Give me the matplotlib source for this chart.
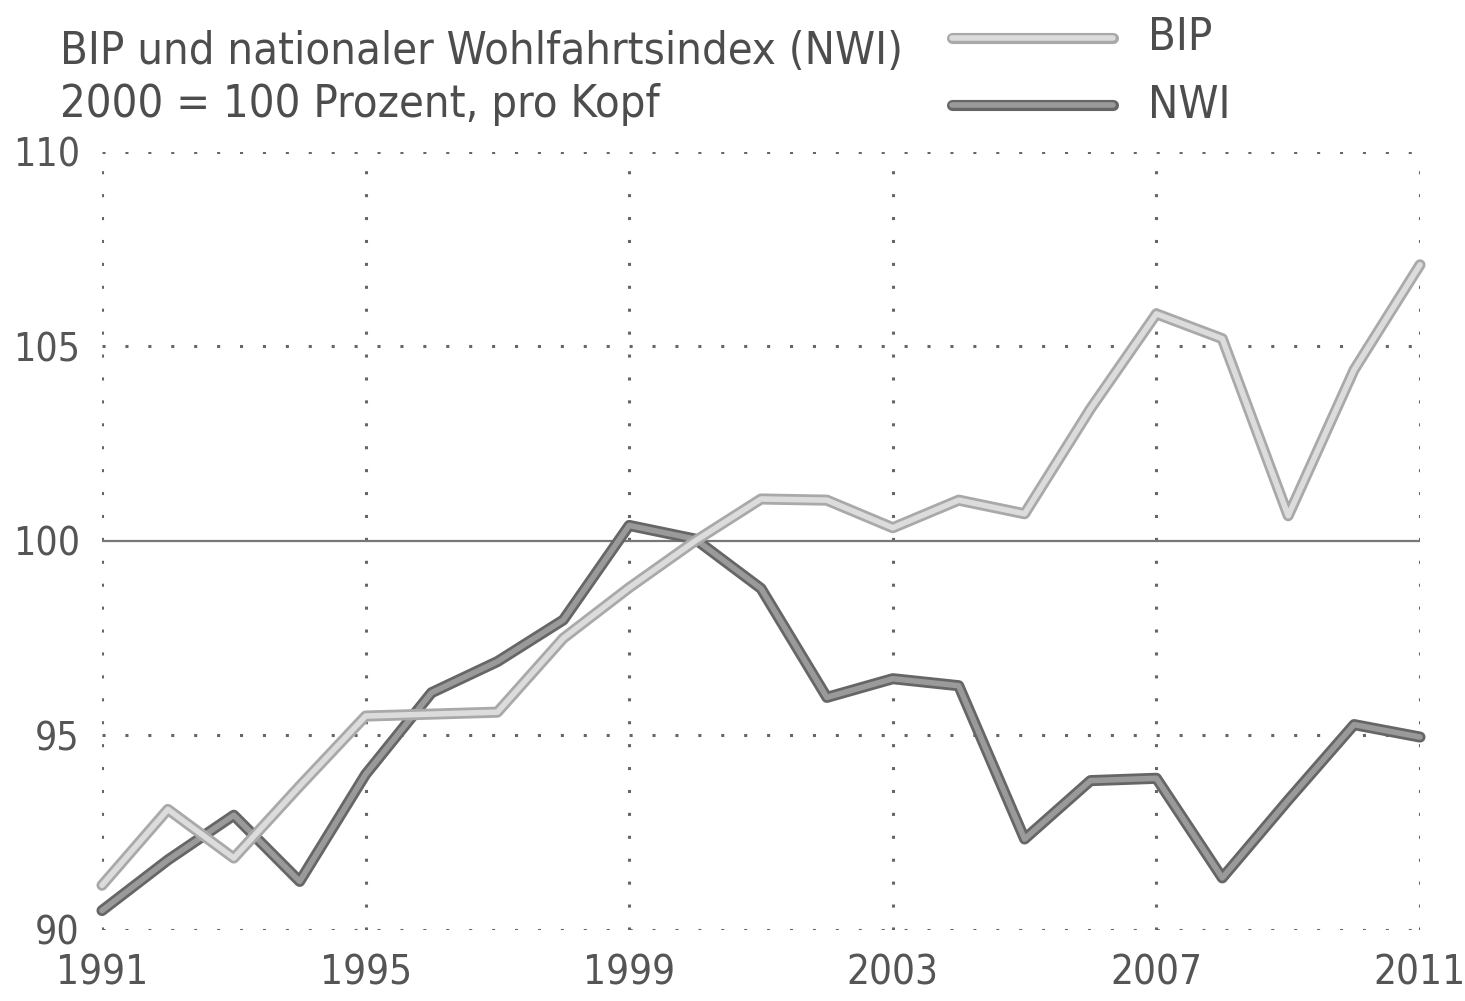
import matplotlib
matplotlib.use("Agg")
import matplotlib.pyplot as plt
from matplotlib.lines import Line2D

years = list(range(1991, 2012))
bip = [91.15, 93.1, 91.85, 93.7, 95.5, 95.55, 95.6, 97.5, 98.8, 100.0,
       101.08, 101.05, 100.34, 101.05, 100.7, 103.4, 105.84, 105.2, 100.65,
       104.4, 107.1]
nwi = [90.5, 91.8, 92.95, 91.25, 94.0, 96.1, 96.9, 97.97, 100.4, 100.05,
       98.78, 95.98, 96.46, 96.28, 92.34, 93.84, 93.9, 91.34, 93.34,
       95.28, 94.96]

x_ticks = [1991, 1995, 1999, 2003, 2007, 2011]
y_ticks = [90, 95, 100, 105, 110]
title1 = "BIP und nationaler Wohlfahrtsindex (NWI)"
title2 = "2000 = 100 Prozent, pro Kopf"
series_names = ["BIP", "NWI"]

FONT = ["DejaVu Sans"]
STRETCH = "condensed"
TXT = "#555555"

fig = plt.figure(figsize=(14.65, 10.01), dpi=100)
fig.patch.set_facecolor("white")
ax = fig.add_axes([102/1465, 1-930/1001, (1420-102)/1465, (930-152)/1001])
ax.set_xlim(1991, 2011)
ax.set_ylim(90, 110)
for s in ax.spines.values():
    s.set_visible(False)

grid_style = dict(color="#666666", linewidth=2.2, linestyle=(0, (1, 6.5)), zorder=1)
for xt in x_ticks:
    ax.axvline(xt, **grid_style)
for yt in y_ticks:
    if yt == 100:
        ax.axhline(yt, color="#777777", linewidth=1.6, zorder=1.5)
    else:
        ax.axhline(yt, **grid_style)

LW_OUT, LW_IN = 8.0, 4.0
ax.plot(years, nwi, color="#666666", linewidth=LW_OUT, solid_joinstyle="round",
        solid_capstyle="round", zorder=3, clip_on=False)
ax.plot(years, nwi, color="#9a9a9a", linewidth=LW_IN, solid_joinstyle="round",
        solid_capstyle="round", zorder=3.1, clip_on=False)
ax.plot(years, bip, color="#a9a9a9", linewidth=LW_OUT, solid_joinstyle="round",
        solid_capstyle="round", zorder=4, clip_on=False)
ax.plot(years, bip, color="#dcdcdc", linewidth=LW_IN, solid_joinstyle="round",
        solid_capstyle="round", zorder=4.1, clip_on=False)

ax.set_xticks(x_ticks)
ax.set_yticks(y_ticks)
ax.tick_params(length=0)
ax.tick_params(axis="x", pad=17)
ax.tick_params(axis="y", pad=16)
for lab in ax.get_xticklabels():
    lab.set_fontfamily(FONT)
    lab.set_fontstretch(STRETCH)
    lab.set_fontsize(29)
    lab.set_color(TXT)
for lab in ax.get_yticklabels():
    lab.set_fontfamily(FONT)
    lab.set_fontstretch(STRETCH)
    lab.set_fontsize(28)
    lab.set_color(TXT)

fig.text(60/1465, 1-52/1001, title1, fontsize=32.5, family=FONT, stretch=STRETCH,
         color="#4d4d4d", ha="left", va="center")
fig.text(60/1465, 1-104/1001, title2, fontsize=32.5, family=FONT, stretch=STRETCH,
         color="#4d4d4d", ha="left", va="center")

leg_styles = [("#a9a9a9", "#dcdcdc", 38), ("#666666", "#9a9a9a", 105)]
for name, (outer, inner, ypx) in zip(series_names, leg_styles):
    yy = 1 - ypx/1001
    fig.add_artist(Line2D([952/1465, 1113/1465], [yy, yy], color=outer,
                          linewidth=LW_OUT, solid_capstyle="round"))
    fig.add_artist(Line2D([952/1465, 1113/1465], [yy, yy], color=inner,
                          linewidth=LW_IN, solid_capstyle="round"))
    fig.text(1148/1465, yy, name, fontsize=32.5, family=FONT, stretch=STRETCH,
             color="#4d4d4d", ha="left", va="center")

fig.savefig("out.png", dpi=100, facecolor="white")
